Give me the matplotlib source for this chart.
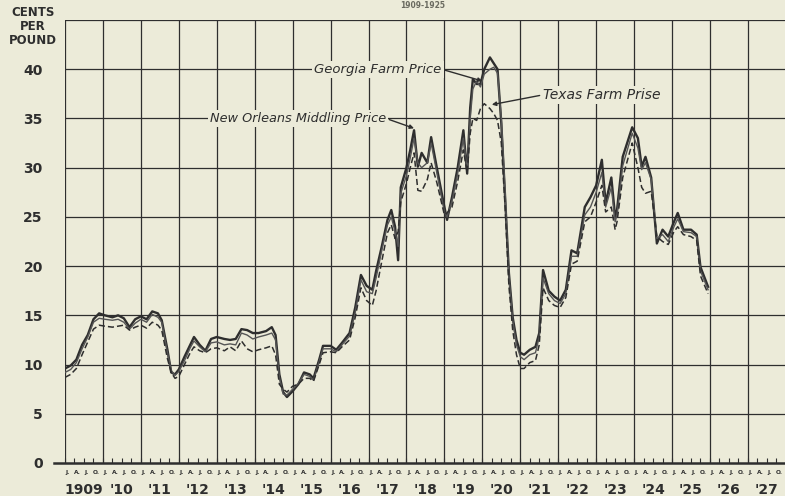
import matplotlib.pyplot as plt
import matplotlib.transforms as mtransforms
import numpy as np

# Time (decimal years) and prices in cents per pound
years_x = [1909.0, 1909.15, 1909.3, 1909.45, 1909.6, 1909.75, 1909.9, 1910.05, 1910.25, 1910.4,
           1910.55, 1910.7, 1910.85, 1911.0, 1911.15, 1911.3, 1911.45, 1911.55, 1911.7, 1911.8,
           1911.9, 1912.0, 1912.15, 1912.3, 1912.4, 1912.55, 1912.7, 1912.85, 1913.0, 1913.2,
           1913.35, 1913.5, 1913.65, 1913.8, 1913.95, 1914.1, 1914.3, 1914.45, 1914.55, 1914.65,
           1914.75, 1914.85, 1915.0, 1915.15, 1915.3, 1915.45, 1915.55, 1915.7, 1915.8, 1916.0,
           1916.15, 1916.3, 1916.5, 1916.65, 1916.8, 1916.95, 1917.1, 1917.2, 1917.35, 1917.5,
           1917.6, 1917.7, 1917.78, 1917.85, 1918.0, 1918.1, 1918.2, 1918.3, 1918.4, 1918.55,
           1918.65, 1918.8, 1919.0, 1919.07, 1919.2, 1919.35, 1919.5, 1919.6, 1919.68, 1919.75,
           1919.85, 1919.95, 1920.05, 1920.2, 1920.3, 1920.4, 1920.5, 1920.6, 1920.7, 1920.8,
           1920.9, 1921.0, 1921.1, 1921.25, 1921.4, 1921.5, 1921.6, 1921.75, 1921.9, 1922.05,
           1922.2, 1922.35, 1922.5, 1922.7, 1922.85, 1923.0, 1923.15, 1923.25, 1923.4, 1923.5,
           1923.55, 1923.7, 1923.95, 1924.1, 1924.2, 1924.3, 1924.45, 1924.6, 1924.75, 1924.9,
           1925.05, 1925.15, 1925.3, 1925.5, 1925.65, 1925.75, 1925.95]

new_orleans = [9.6, 9.9, 10.5, 12.0, 13.0, 14.6, 15.2, 15.0, 14.8, 15.0,
               14.7, 13.8, 14.6, 14.9, 14.6, 15.4, 15.2, 14.5, 11.5, 9.2,
               9.0, 9.5, 10.8, 12.0, 12.8, 12.0, 11.4, 12.6, 12.8, 12.6,
               12.5, 12.6, 13.6, 13.5, 13.2, 13.2, 13.4, 13.8, 13.0, 9.0,
               7.2, 6.7, 7.3, 8.0, 9.2, 9.0, 8.6, 10.5, 11.9, 11.9,
               11.5, 12.2, 13.2, 15.8, 19.1, 18.0, 17.6, 19.5, 22.0, 24.7,
               25.7, 24.0, 20.6, 28.0, 30.0, 31.8, 33.8, 30.1, 31.5, 30.5,
               33.1, 30.0, 26.0, 24.7, 27.0, 30.0, 33.8, 29.4, 36.1, 39.0,
               38.5, 38.5, 40.0, 41.2, 40.6, 40.0, 34.5, 27.0, 19.3, 14.8,
               12.5, 11.2, 11.0, 11.5, 11.8, 13.2, 19.6, 17.5, 16.9, 16.5,
               17.6, 21.6, 21.3, 26.0, 27.0, 28.2, 30.8, 26.4, 29.0, 25.0,
               25.7, 31.1, 34.1, 33.0, 30.1, 31.1, 29.0, 22.3, 23.7, 23.0,
               24.5, 25.4, 23.7, 23.7, 23.2, 19.9, 17.9]

georgia = [9.2, 9.5, 10.2, 11.6, 12.8, 14.3, 14.7, 14.6, 14.5, 14.6,
           14.3, 13.6, 14.2, 14.6, 14.3, 15.1, 14.8, 14.3, 11.2, 9.4,
           8.9, 9.3, 10.4, 11.7, 12.4, 11.8, 11.3, 12.2, 12.3, 12.0,
           12.1, 12.0, 13.2, 13.0, 12.6, 12.8, 13.0, 13.2, 12.5, 8.7,
           7.0, 6.9, 7.5, 8.1, 9.0, 8.8, 8.4, 10.3, 11.6, 11.6,
           11.3, 12.0, 12.9, 15.3, 18.6, 17.4, 17.2, 18.8, 21.6, 24.2,
           25.0, 23.5, 22.0, 27.4, 29.2, 31.0, 33.0, 30.5, 30.0, 30.5,
           32.5, 29.5, 25.5, 25.0, 26.6, 29.4, 33.0, 29.8, 35.0, 38.0,
           38.8, 38.2, 39.5, 40.0, 40.2, 39.6, 35.0, 27.5, 19.0, 14.5,
           12.0, 10.8, 10.5, 11.0, 11.2, 12.8, 18.8, 17.2, 16.5, 16.2,
           17.2, 21.0, 21.0, 25.2, 26.0, 27.5, 29.5, 26.0, 28.0, 24.5,
           25.2, 30.2, 33.5, 32.0, 29.8, 30.5, 28.8, 22.8, 23.2, 22.5,
           24.0, 24.8, 23.5, 23.4, 23.0, 19.5, 17.6]

texas = [8.7, 9.0, 9.6, 11.0, 12.3, 13.6, 14.0, 13.9, 13.8, 13.9,
         14.0, 13.5, 13.8, 14.0, 13.7, 14.3, 14.0, 13.5, 10.6, 9.2,
         8.6, 8.8, 10.0, 11.2, 11.8, 11.4, 11.2, 11.6, 11.7, 11.4,
         11.8, 11.4, 12.4, 11.6, 11.3, 11.5, 11.7, 11.9, 11.0, 8.0,
         7.5, 7.2, 7.8, 8.0, 8.6, 8.6, 8.3, 10.0, 11.2, 11.3,
         11.2, 11.8, 12.5, 14.8, 17.8, 16.5, 16.0, 17.5, 20.5, 23.4,
         24.2, 22.8, 23.5, 26.5, 28.4, 30.0, 31.5, 27.7, 27.6, 28.8,
         30.5, 28.5, 25.2, 25.4, 26.0, 28.6, 31.8, 29.5, 33.5, 35.0,
         34.8, 36.0, 36.5, 36.0, 35.5, 34.8, 32.5, 26.0, 18.0, 13.5,
         11.0, 9.6, 9.6, 10.2, 10.4, 12.0, 17.8, 16.5, 16.0, 15.8,
         16.8, 20.2, 20.5, 24.5, 25.0, 26.5, 28.2, 25.5, 26.0, 23.7,
         24.5, 29.0, 32.5, 30.0, 28.0, 27.4, 27.6, 23.0, 22.5, 22.2,
         23.5, 24.0, 23.2, 23.0, 22.6, 19.0, 17.2]

year_labels = ["1909", "'10", "'11", "'12", "'13", "'14", "'15", "'16", "'17",
               "'18", "'19", "'20", "'21", "'22", "'23", "'24", "'25", "'26", "'27"]
month_letters = ["J", "A", "J", "O"]
y_ticks = [0, 5, 10, 15, 20, 25, 30, 35, 40]

bg = '#ecebd9'
ink = '#2e2e2e'

fig = plt.figure(figsize=(7.85, 4.96), dpi=100, facecolor=bg)
ax = fig.add_axes([65 / 785, 33 / 496, 1 - 65 / 785, (463 - 20) / 496])
ax.set_facecolor(bg)

x0 = 1909
x1 = 1909 + (785 - 65) / 37.94
ax.set_xlim(x0, x1)
ax.set_ylim(0, 45)

# grid: year boundaries and every 5 cents
for yr in range(1909, 1928):
    ax.axvline(yr, color=ink, lw=0.9, zorder=1)
for v in range(5, 46, 5):
    ax.axhline(v, color=ink, lw=0.9, zorder=1)
ax.plot([1908.72, x1], [0, 0], color=ink, lw=1.8, zorder=3, clip_on=False)

for s in ['right', 'bottom', 'top', 'left']:
    ax.spines[s].set_visible(False)

# quarter ticks pointing up from the base line
quarters = np.arange(1909, 1928, 0.25)
ax.set_xticks(quarters)
ax.set_xticklabels([])
ax.tick_params(axis='x', direction='in', length=3.5, width=0.8, color=ink, pad=0)
ax.set_yticks(y_ticks)
ax.set_yticklabels([str(v) for v in y_ticks], fontsize=10, fontweight='bold', color=ink)
ax.tick_params(axis='y', length=0, pad=16)

trans = mtransforms.blended_transform_factory(ax.transData, ax.transAxes)
for i, lab in enumerate(year_labels):
    yr = 1909 + i
    ax.text(yr + 0.5, -0.06, lab, transform=trans, ha='center', va='center',
            fontsize=10, fontweight='bold', color=ink)
    for q, m in enumerate(month_letters):
        ax.text(yr + 0.07 + q * 0.25, -0.022, m + ".", transform=trans, ha='center', va='center',
                fontsize=4.2, fontweight='bold', color=ink)

# price lines
ax.plot(years_x, new_orleans, color=ink, lw=1.7, zorder=4)
ax.plot(years_x, georgia, color='#555555', lw=1.0, zorder=5)
ax.plot(years_x, texas, color=ink, lw=1.1, dashes=(4, 2), zorder=5)

box = dict(boxstyle='square,pad=0.15', fc=bg, ec='none')
arrow = dict(arrowstyle='-|>', color=ink, lw=1.0, mutation_scale=6, shrinkA=1, shrinkB=0)

ax.annotate("Georgia Farm Price", xy=(1920.0, 38.8), xytext=(1917.25, 40),
            fontsize=9.5, style='italic', color=ink, ha='center', va='center', bbox=box,
            arrowprops=dict(arrow, relpos=(1, 0.5)), zorder=6)
ax.annotate("Texas Farm Prise", xy=(1920.25, 36.4), xytext=(1923.15, 37.4),
            fontsize=10, style='italic', color=ink, ha='center', va='center', bbox=box,
            arrowprops=dict(arrow, relpos=(0, 0.5)), zorder=6)
ax.annotate("New Orleans Middling Price", xy=(1918.2, 34.0), xytext=(1915.14, 35),
            fontsize=9.3, style='italic', color=ink, ha='center', va='center', bbox=box,
            arrowprops=dict(arrow, relpos=(1, 0.5)), zorder=6)

fig.text(33 / 785, 1 - 13 / 496, "CENTS", ha='center', va='center', fontsize=8.5,
         fontweight='bold', color=ink)
fig.text(33 / 785, 1 - 27 / 496, "PER", ha='center', va='center', fontsize=8.5,
         fontweight='bold', color=ink)
fig.text(33 / 785, 1 - 41 / 496, "POUND", ha='center', va='center', fontsize=8.5,
         fontweight='bold', color=ink)

# title (mostly cut off in the original scan), kept small at the top edge
fig.text(423 / 785, 1 - 1 / 496, "1909-1925", ha='center', va='top', fontsize=5.5,
         fontweight='bold', color='#6a6a60')

fig.savefig('out.png', dpi=100, facecolor=bg)
